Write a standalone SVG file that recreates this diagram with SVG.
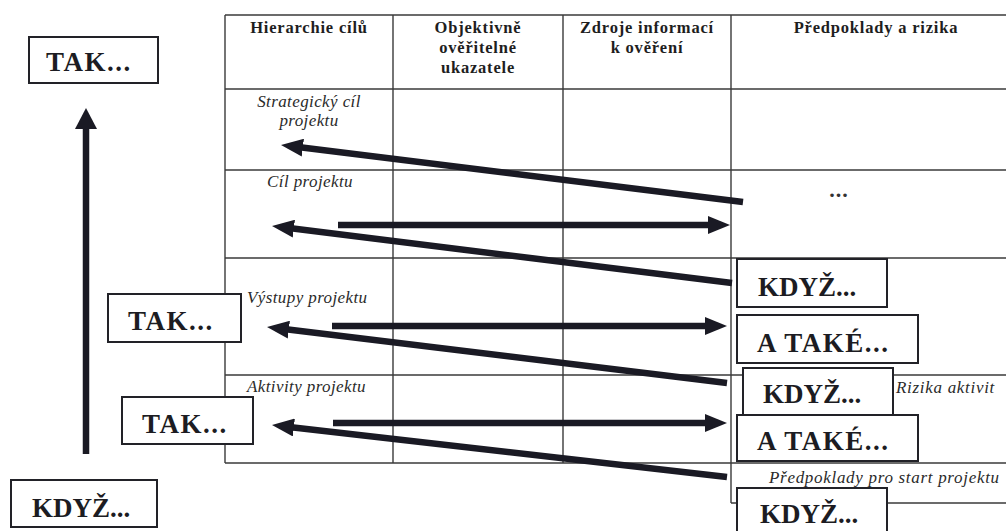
<svg xmlns="http://www.w3.org/2000/svg" width="1006" height="531" viewBox="0 0 1006 531">
<style>
  .grid line { stroke: #3a3a3a; stroke-width: 1.4; }
  .hdr { font-family: "Liberation Serif", "Times New Roman", serif; font-weight: bold; font-size: 16.5px; letter-spacing: 0.8px; fill: #1e1e1e; text-anchor: middle; }
  .it { font-family: "Liberation Serif", "Times New Roman", serif; font-style: italic; font-size: 17px; letter-spacing: 0.4px; fill: #2a2a2a; }
  .wide { letter-spacing: 0.7px; }
  .box rect { fill: #ffffff; stroke: #222228; stroke-width: 2; }
  .box text { font-family: "Liberation Serif", "Times New Roman", serif; font-weight: bold; font-size: 27px; fill: #1c1c22; }
  .sp { letter-spacing: 1.5px; }
  .conn line { stroke: #1a1a24; stroke-width: 6.5; }
</style>
<defs>
  <marker id="ah" viewBox="0 0 22 18" refX="7" refY="9" markerWidth="22" markerHeight="18" markerUnits="userSpaceOnUse" orient="auto">
    <path d="M0,0 L22,9 L0,18 Z" fill="#1a1a24"/>
  </marker>
  <marker id="ahv" viewBox="0 0 22 22" refX="6" refY="11" markerWidth="22" markerHeight="22" markerUnits="userSpaceOnUse" orient="auto">
    <path d="M0,0 L21,11 L0,22 Z" fill="#1a1a24"/>
  </marker>
</defs>
<rect x="0" y="0" width="1006" height="531" fill="#ffffff"/>

<g id="table" class="grid">
  <line x1="225" y1="15" x2="1006" y2="15"/>
  <line x1="225" y1="89" x2="1006" y2="89"/>
  <line x1="225" y1="170" x2="1006" y2="170"/>
  <line x1="225" y1="258" x2="1006" y2="258"/>
  <line x1="225" y1="375" x2="1006" y2="375"/>
  <line x1="225" y1="463" x2="1006" y2="463"/>
  <line x1="731" y1="503" x2="1006" y2="503"/>
  <line x1="225" y1="15" x2="225" y2="463"/>
  <line x1="393" y1="15" x2="393" y2="463"/>
  <line x1="563" y1="15" x2="563" y2="463"/>
  <line x1="731" y1="15" x2="731" y2="503"/>
</g>

<g id="headers">
  <text class="hdr" x="309" y="33">Hierarchie cílů</text>
  <text class="hdr" x="478" y="33">Objektivně</text>
  <text class="hdr" x="478" y="53">ověřitelné</text>
  <text class="hdr" x="478" y="73">ukazatele</text>
  <text class="hdr" x="647" y="33">Zdroje informací</text>
  <text class="hdr" x="647" y="53">k ověření</text>
  <text class="hdr" x="876" y="33">Předpoklady a rizika</text>
</g>

<g id="row-labels">
  <text class="it" x="309" y="107" text-anchor="middle">Strategický cíl</text>
  <text class="it" x="309" y="126" text-anchor="middle">projektu</text>
  <text class="it" x="310" y="187" text-anchor="middle">Cíl projektu</text>
  <text class="it" x="247" y="303">Výstupy projektu</text>
  <text class="it" x="247" y="392">Aktivity projektu</text>
  <text x="839" y="197" text-anchor="middle" font-family="Liberation Serif, serif" font-weight="bold" font-size="22" letter-spacing="1" fill="#333">...</text>
  <text class="it wide" x="896" y="393" fill="#555">Rizika aktivit</text>
  <text class="it wide" x="769" y="483">Předpoklady pro start projektu</text>
</g>

<g id="connectors" class="conn">
  <line x1="86" y1="454" x2="86" y2="123" marker-end="url(#ahv)" stroke-width="7"/>
  <line x1="743" y1="202" x2="295.9" y2="146.8" marker-end="url(#ah)"/>
  <line x1="338" y1="225" x2="715" y2="225" marker-end="url(#ah)"/>
  <line x1="732" y1="283" x2="286.9" y2="227.8" marker-end="url(#ah)"/>
  <line x1="332" y1="326" x2="712" y2="326" marker-end="url(#ah)"/>
  <line x1="727" y1="383" x2="281.9" y2="328.8" marker-end="url(#ah)"/>
  <line x1="333" y1="423" x2="712" y2="423" marker-end="url(#ah)"/>
  <line x1="727" y1="477" x2="286.9" y2="426.7" marker-end="url(#ah)"/>
</g>

<g id="tak-top" class="box">
  <rect x="29" y="37" width="129" height="46"/>
  <text class="sp" x="46" y="71">TAK...</text>
</g>
<g id="tak-mid" class="box">
  <rect x="108" y="294" width="133" height="48"/>
  <text class="sp" x="128" y="330">TAK...</text>
</g>
<g id="tak-low" class="box">
  <rect x="122" y="397" width="131" height="47"/>
  <text class="sp" x="142" y="433">TAK...</text>
</g>
<g id="kdyz-left" class="box">
  <rect x="11" y="480" width="146" height="47"/>
  <text x="32" y="517">KDYŽ...</text>
</g>
<g id="kdyz-1" class="box">
  <rect x="737" y="259" width="150" height="48"/>
  <text x="758" y="296">KDYŽ...</text>
</g>
<g id="atake-1" class="box">
  <rect x="737" y="315" width="181" height="48"/>
  <text class="sp" x="757" y="352">A TAKÉ...</text>
</g>
<g id="kdyz-2" class="box">
  <rect x="743" y="368" width="150" height="48"/>
  <text x="763" y="403">KDYŽ...</text>
</g>
<g id="atake-2" class="box">
  <rect x="737" y="415" width="181" height="46"/>
  <text class="sp" x="757" y="450">A TAKÉ...</text>
</g>
<g id="kdyz-3" class="box">
  <rect x="737" y="488" width="150" height="50"/>
  <text x="760" y="523">KDYŽ...</text>
</g>
</svg>
